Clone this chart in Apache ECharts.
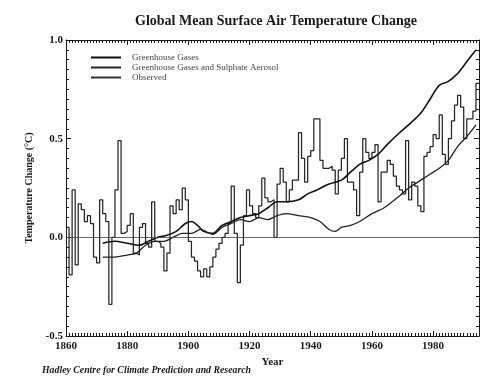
<!DOCTYPE html>
<html><head><meta charset="utf-8">
<script src="https://cdn.jsdelivr.net/npm/echarts@6/dist/echarts.min.js"></script>
<style>html,body{margin:0;padding:0;background:#fff}#c{width:495px;height:379px}</style>
</head><body><div id="c"></div>
<script>
var obsStartYear = 1860;
var observed = [
 0.05,-0.19,0.24,-0.14,0.17,0.14,0.08,0.11,0.07,-0.10,
 -0.13,0.19,0.12,0.08,-0.34,0.00,0.24,0.49,0.02,0.03,
 0.06,0.12,-0.08,-0.09,0.05,0.07,-0.03,-0.05,0.18,-0.02,
 -0.03,-0.05,-0.17,-0.08,0.16,0.12,0.19,0.14,0.25,0.19,
 -0.02,-0.10,-0.12,-0.17,-0.20,-0.16,-0.20,-0.15,-0.10,-0.06,
 -0.03,0.00,0.02,0.07,0.26,0.02,-0.23,-0.04,0.11,0.24,
 0.16,0.12,0.10,0.16,0.30,0.20,0.18,0.19,0.00,0.27,
 0.35,0.28,0.18,0.24,0.29,0.29,0.53,0.40,0.28,0.41,
 0.44,0.60,0.60,0.39,0.35,0.35,0.36,0.34,0.22,0.34,
 0.40,0.50,0.28,0.28,0.24,0.11,0.33,0.50,0.43,0.40,
 0.43,0.47,0.18,0.33,0.33,0.39,0.37,0.31,0.26,0.24,
 0.22,0.49,0.19,0.28,0.26,0.16,0.13,0.41,0.43,0.46,
 0.52,0.50,0.62,0.42,0.37,0.50,0.59,0.67,0.72,0.66,
 0.50,0.60,0.60,0.64,0.78
];
var ghgYears = [1872,1876,1880,1884,1887,1890,1893,1896,1899,1901,1903,1905,1908,1911,1914,1917,1920,1923,1926,1929,1932,1936,1939,1942,1946,1950,1953,1956,1959,1962,1965,1969,1972,1976,1979,1982,1985,1988,1991,1994];
var ghgValues = [-0.03,-0.02,-0.03,-0.04,-0.02,0.00,0.01,0.03,0.07,0.08,0.06,0.03,0.02,0.06,0.08,0.10,0.11,0.12,0.15,0.18,0.18,0.19,0.22,0.24,0.27,0.29,0.33,0.37,0.39,0.42,0.47,0.53,0.57,0.63,0.70,0.77,0.79,0.83,0.89,0.95];
var sulYears = [1872,1876,1880,1883,1886,1889,1892,1895,1898,1901,1904,1908,1911,1914,1917,1920,1923,1926,1929,1932,1936,1940,1943,1946,1948,1950,1953,1956,1960,1964,1969,1972,1975,1979,1982,1985,1988,1991,1994];
var sulValues = [-0.10,-0.10,-0.09,-0.08,-0.04,-0.02,-0.02,0.00,0.02,0.02,0.04,0.015,0.05,0.07,0.09,0.08,0.10,0.09,0.11,0.12,0.11,0.10,0.08,0.04,0.03,0.05,0.06,0.08,0.12,0.15,0.21,0.25,0.28,0.32,0.35,0.39,0.46,0.51,0.57];
var xTickLabels = [1860,1880,1900,1920,1940,1960,1980];
var yTickLabels = [-0.5,0.0,0.5,1.0];
var seriesNames = ['Greenhouse Gases','Greenhouse Gases and Sulphate Aerosol','Observed'];

var obsData = observed.map(function(v,i){return [obsStartYear+i, v];});
obsData.push([obsStartYear+observed.length, observed[observed.length-1]]);
var ghgData = ghgYears.map(function(y,i){return [y, ghgValues[i]];});
var sulData = sulYears.map(function(y,i){return [y, sulValues[i]];});

var serif = '"Liberation Serif","DejaVu Serif",serif';
var ink = '#1a1a1a';
var chart = echarts.init(document.getElementById('c'), null, {renderer:'canvas'});
chart.setOption({
  animation:false,
  backgroundColor:'#ffffff',
  title:{text:'Global Mean Surface Air Temperature Change', left:271, top:9, textAlign:'center',
    textStyle:{fontFamily:serif, fontSize:14, fontWeight:'bold', color:ink}},
  legend:{orient:'vertical', left:86, top:48, itemWidth:30, itemHeight:2, itemGap:1, icon:'rect',
    data:[
      {name:seriesNames[0], itemStyle:{color:'#111'}},
      {name:seriesNames[1], itemStyle:{color:'#222'}},
      {name:seriesNames[2], itemStyle:{color:'#333'}}
    ],
    textStyle:{fontFamily:serif, fontSize:9, color:'#444', padding:[0,0,0,6]}},
  graphic:[
    {type:'text', left:42, top:365, style:{text:'Hadley Centre for Climate Prediction and Research',
      font:'italic bold 9.8px "Liberation Serif", serif', fill:ink}}
  ],
  grid:{left:66, right:16, top:40, bottom:43},
  xAxis:[{
    type:'value', min:1860, max:1995, interval:20, name:'Year', nameLocation:'middle', nameGap:20,
    nameTextStyle:{fontFamily:serif, fontSize:11, fontWeight:'bold', color:ink},
    axisLine:{onZero:false, lineStyle:{color:ink, width:1}},
    axisTick:{inside:true, length:5, lineStyle:{color:ink}},
    minorTick:{show:true, splitNumber:20, length:3, lineStyle:{color:ink}},
    axisLabel:{margin:5, fontFamily:serif, fontSize:11, fontWeight:'bold', color:ink,
      formatter:function(v){return xTickLabels.indexOf(v)>=0 ? String(v) : '';}},
    splitLine:{show:false}
  },{
    type:'value', position:'top', min:1860, max:1995, interval:20,
    axisLine:{onZero:false, lineStyle:{color:ink, width:1}},
    axisTick:{inside:true, length:5, lineStyle:{color:ink}},
    minorTick:{show:true, splitNumber:20, length:3, lineStyle:{color:ink}},
    axisLabel:{show:false}, splitLine:{show:false}
  }],
  yAxis:[{
    type:'value', min:-0.5, max:1.0, interval:0.5, name:'Temperature Change (°C)',
    nameLocation:'middle', nameGap:30, nameRotate:90,
    nameTextStyle:{fontFamily:serif, fontSize:10, fontWeight:'bold', color:ink},
    axisLine:{show:true, onZero:false, lineStyle:{color:ink, width:1}},
    axisTick:{inside:true, length:5, lineStyle:{color:ink}},
    minorTick:{show:true, splitNumber:10, length:3, lineStyle:{color:ink}},
    axisLabel:{margin:3, fontFamily:serif, fontSize:11, fontWeight:'bold', color:ink,
      formatter:function(v){var r=Math.round(v*10)/10; return yTickLabels.indexOf(r)>=0 ? r.toFixed(1) : '';}},
    splitLine:{show:false}
  },{
    type:'value', position:'right', min:-0.5, max:1.0, interval:0.5,
    axisLine:{show:true, onZero:false, lineStyle:{color:ink, width:1}},
    axisTick:{inside:true, length:5, lineStyle:{color:ink}},
    minorTick:{show:true, splitNumber:10, length:3, lineStyle:{color:ink}},
    axisLabel:{show:false}, splitLine:{show:false}
  }],
  series:[
    {name:seriesNames[0], type:'line', data:ghgData, symbol:'none', smooth:0.3,
      lineStyle:{color:'#111', width:1.6}, itemStyle:{color:'#111'}, z:3},
    {name:seriesNames[1], type:'line', data:sulData, symbol:'none', smooth:0.3,
      lineStyle:{color:'#222', width:1.3}, itemStyle:{color:'#222'}, z:3},
    {name:seriesNames[2], type:'line', data:obsData, symbol:'none', step:'end',
      lineStyle:{color:'#262626', width:1.25}, itemStyle:{color:'#262626'}, z:2,
      markLine:{silent:true, symbol:'none', label:{show:false},
        lineStyle:{color:'#444', width:0.8, type:'solid'}, data:[{yAxis:0}]}}
  ]
});
</script></body></html>
